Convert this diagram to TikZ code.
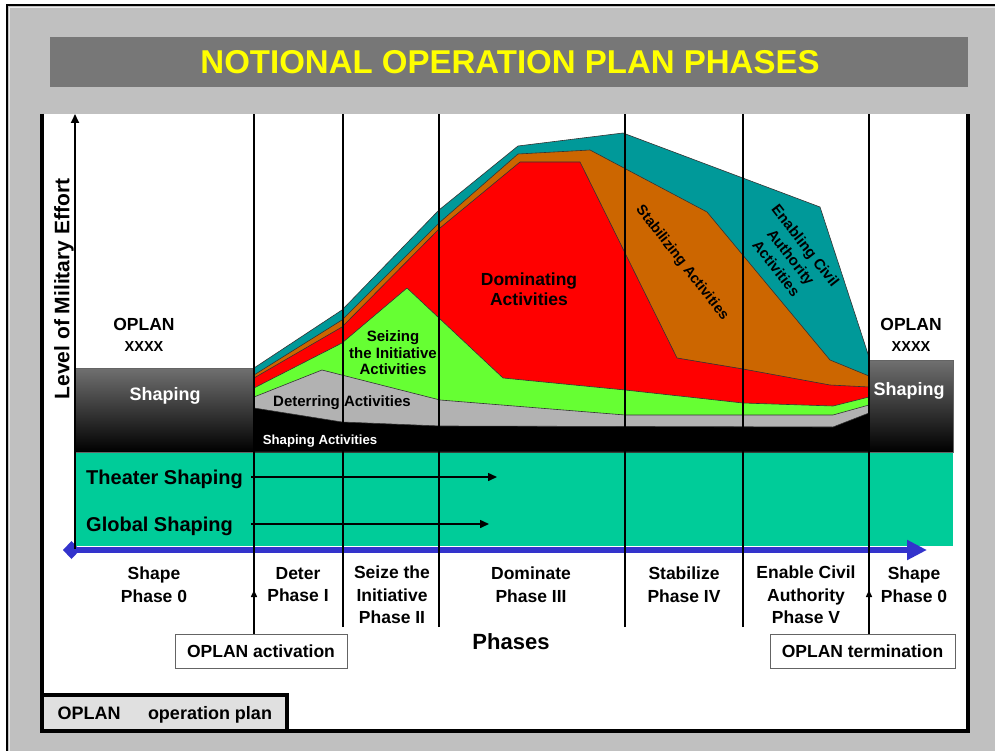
\documentclass[tikz,border=0pt]{standalone}
\usepackage{fontspec}
\setmainfont{Liberation Sans}
\usetikzlibrary{arrows.meta}
\definecolor{bggray}{RGB}{192,192,192}
\definecolor{titlegray}{RGB}{119,119,119}
\definecolor{tealc}{RGB}{0,153,153}
\definecolor{orangec}{RGB}{204,102,0}
\definecolor{redc}{RGB}{255,0,0}
\definecolor{greenc}{RGB}{102,255,51}
\definecolor{grayc}{RGB}{178,178,178}
\definecolor{bandc}{RGB}{0,204,153}
\definecolor{bluec}{RGB}{51,51,204}
\definecolor{titleyellow}{RGB}{255,255,0}
\definecolor{edgec}{RGB}{51,51,51}
\definecolor{legendgray}{RGB}{224,224,224}
\definecolor{shadetop}{RGB}{112,112,112}
\definecolor{boxedge}{RGB}{100,100,100}
\newcommand\fsz[2]{\fontsize{#1}{#2}\selectfont}
\begin{document}
\begin{tikzpicture}[x=1pt,y=-1pt,
  lbl/.style={font=\bfseries\fsz{17.5}{22.5}, align=center, inner sep=0pt, text=black},
  area/.style={draw=edgec, line width=0.6pt, line join=round},
  vline/.style={line width=2pt, draw=black},
  shapebox/.style={top color=shadetop, bottom color=black, draw=boxedge, line width=0.8pt},
  wlbl/.style={font=\bfseries\fsz{18}{22}, text=white, inner sep=0pt},
  tagbox/.style={draw=boxedge, fill=white, line width=1pt, font=\bfseries\fsz{17.5}{21}, minimum height=34pt, inner sep=0pt},
  harrow/.style={line width=1.5pt, -{Triangle[length=9pt,width=8pt]}},
  uptip/.style={line width=1.5pt, -{Triangle[length=7pt,width=6pt]}},
  oplan/.style={font=\bfseries\fsz{17.5}{21}, inner sep=0pt},
  xxxx/.style={font=\bfseries\fsz{14.5}{17}, inner sep=0pt},
]
\useasboundingbox (0,0) rectangle (995,751);
\fill[white] (0,0) rectangle (995,751);
\fill[bggray] (7,5) rectangle (995,751);
\draw[black, line width=1.5pt] (7,751) -- (7,5) -- (995,5);
\draw[white!85!gray, line width=1pt] (9.5,751) -- (9.5,7.5) -- (995,7.5);
% title
\fill[titlegray] (50,37) rectangle (968,87);
\node[font=\bfseries\fsz{33}{36}, text=titleyellow, inner sep=0pt] (title) at (510,62) {NOTIONAL OPERATION PLAN PHASES};
% panel
\fill[white] (42,114) rectangle (968,731);
\draw[line width=3.5pt] (42,114) -- (42,731) -- (968,731) -- (968,114);
% teal shaping band
\fill[bandc] (75,452) rectangle (953,546);
% stacked activity areas
\filldraw[area, fill=tealc] (254,452) -- (254,368) -- (342,310) -- (439,210) -- (518,146) -- (623,133) -- (820,207) -- (869,357) -- (869,452) -- cycle;
\filldraw[area, fill=orangec] (254,452) -- (254,375) -- (342,320) -- (439,223) -- (518,154) -- (590,150) -- (707,212) -- (830,360) -- (869,376) -- (869,452) -- cycle;
\filldraw[area, fill=redc] (254,452) -- (254,378) -- (342,327) -- (440,228) -- (520,162) -- (580,162) -- (677,358) -- (743,369) -- (830,385) -- (869,387) -- (869,452) -- cycle;
\filldraw[area, fill=greenc] (254,452) -- (254,388) -- (342,343) -- (407,288) -- (503,378) -- (625,390) -- (743,403) -- (833,406) -- (869,397) -- (869,452) -- cycle;
\filldraw[area, fill=grayc] (254,452) -- (254,397) -- (322,370) -- (440,400) -- (625,415) -- (833,415) -- (869,405) -- (869,452) -- cycle;
\filldraw[area, fill=black] (254,452) -- (254,408) -- (342,422) -- (440,426) -- (833,427) -- (869,413) -- (869,452) -- cycle;
% shaping boxes
\draw[shapebox] (75,368) rectangle (254,452);
\draw[shapebox] (869,360) rectangle (953,452);
% blue phases axis
\draw[bluec, line width=6pt, {Diamond[length=17pt,width=18pt]}-{Triangle[length=20pt,width=19pt]}] (63,550) -- (927,550);
% tag boxes
\node[tagbox, minimum width=172pt] (act) at (261,651) {OPLAN activation};
\node[tagbox, minimum width=185pt] (term) at (862.5,651) {OPLAN termination};
% phase lines
\coordinate (t1) at (254,114);
\coordinate (t2) at (343,114);
\coordinate (t3) at (439,114);
\coordinate (t4) at (625,114);
\coordinate (t5) at (743,114);
\coordinate (t6) at (869,114);
\coordinate (b2) at (343,627);
\coordinate (b3) at (439,627);
\coordinate (b4) at (625,627);
\coordinate (b5) at (743,627);
\coordinate (u1) at (254,590);
\coordinate (u6) at (869,590);
\draw[vline] (act.north -| t1) -- (t1);
\draw[vline] (b2) -- (t2);
\draw[vline] (b3) -- (t3);
\draw[vline] (b4) -- (t4);
\draw[vline] (b5) -- (t5);
\draw[vline] (term.north -| t6) -- (t6);
\draw[uptip] (act.north -| t1) -- (u1);
\draw[uptip] (term.north -| t6) -- (u6);
% theater / global shaping
\node[font=\bfseries\fsz{20}{24}, anchor=base west, inner sep=0pt] (theater) at (86,484) {Theater Shaping};
\node[font=\bfseries\fsz{20}{24}, anchor=base west, inner sep=0pt] (global) at (86,531) {Global Shaping};
\coordinate (thS) at (251,477);
\coordinate (thE) at (497,477);
\coordinate (glS) at (251,524);
\coordinate (glE) at (489,524);
\draw[harrow] (thS) -- (thE);
\draw[harrow] (glS) -- (glE);
% y axis
\coordinate (y0) at (75,549);
\coordinate (y1) at (75,114);
\draw[line width=2pt, -{Triangle[length=9pt,width=8pt]}] (y0) -- (y1);
\node[font=\bfseries\fsz{21}{24}, rotate=90, inner sep=0pt] (ylab) at (64,289) {Level of Military Effort};
% OPLAN xxxx
\node[oplan] (op1) at (144,324) {OPLAN};
\node[xxxx] (x1) at (144,347) {XXXX};
\node[oplan] (op2) at (911,324) {OPLAN};
\node[xxxx] (x2) at (911,347) {XXXX};
% shaping labels
\node[wlbl] (sh1) at (165,396) {Shaping};
\node[wlbl] (sh2) at (909,391) {Shaping};
\node[font=\bfseries\fsz{13.2}{16}, text=white, inner sep=0pt] (shact) at (320,441) {Shaping Activities};
% area labels
\node[font=\bfseries\fsz{15}{18}, inner sep=0pt] (det) at (342,403) {Deterring Activities};
\node[font=\bfseries\fsz{15}{16.5}, align=center, inner sep=0pt] (seize) at (393,353) {Seizing\\the Initiative\\Activities};
\node[font=\bfseries\fsz{17.5}{19.5}, align=center, inner sep=0pt] (dom) at (529,289) {Dominating\\Activities};
\node[font=\bfseries\fsz{14.5}{17}, rotate=-52, inner sep=0pt] (stab) at (682,263) {Stabilizing Activities};
\node[font=\bfseries\fsz{15}{18.5}, align=center, rotate=-52, inner sep=0pt] (enab) at (791,257) {Enabling Civil\\Authority\\Activities};
% phase labels
\node[lbl] (p0) at (154,584.5) {Shape\\Phase 0};
\node[lbl] (p1) at (298,584.5) {Deter\\Phase I};
\node[lbl] (p2) at (392,595) {Seize the\\Initiative\\Phase II};
\node[lbl] (p3) at (531,584.5) {Dominate\\Phase III};
\node[lbl] (p4) at (684,584.5) {Stabilize\\Phase IV};
\node[lbl] (p5) at (806,595) {Enable Civil\\Authority\\Phase V};
\node[lbl] (p6) at (914,584.5) {Shape\\Phase 0};
\node[font=\bfseries\fsz{22}{26}, inner sep=0pt] (phases) at (511,642) {Phases};
% legend
\fill[legendgray] (44,697) rectangle (287,729);
\draw[line width=3.5pt] (42,695) -- (287,695) -- (287,731);
\node[font=\bfseries\fsz{18}{22}, anchor=base, inner sep=0pt] (lg1) at (89,719.5) {OPLAN};
\node[font=\bfseries\fsz{18}{22}, anchor=base, inner sep=0pt] (lg2) at (210,719.5) {operation plan};
\end{tikzpicture}
\end{document}
